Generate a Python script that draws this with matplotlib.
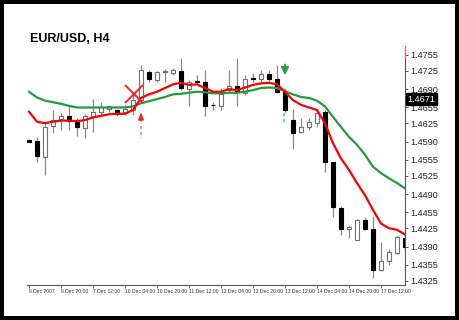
import numpy as np
import matplotlib.pyplot as plt
from matplotlib.transforms import blended_transform_factory

# H4 candles, EUR/USD
opens = [1.4593, 1.4591, 1.4561, 1.4620, 1.4633, 1.4638, 1.4627, 1.4615, 1.4638, 1.4646,
         1.4652, 1.4650, 1.4646, 1.4650, 1.4669, 1.4723, 1.4707, 1.4723, 1.4720, 1.4725,
         1.4690, 1.4705, 1.4704, 1.4660, 1.4658, 1.4688, 1.4695, 1.4682, 1.4711, 1.4709,
         1.4718, 1.4709, 1.4685, 1.4631, 1.4608, 1.4617, 1.4625, 1.4646, 1.4552, 1.4464,
         1.4424, 1.4403, 1.4441, 1.4424, 1.4345, 1.4363, 1.4377, 1.4407]
highs = [1.4594, 1.4599, 1.4625, 1.4650, 1.4644, 1.4657, 1.4634, 1.4642, 1.4671, 1.4665,
         1.4658, 1.4653, 1.4660, 1.4679, 1.4736, 1.4726, 1.4725, 1.4728, 1.4730, 1.4749,
         1.4707, 1.4716, 1.4726, 1.4666, 1.4692, 1.4726, 1.4749, 1.4717, 1.4720, 1.4726,
         1.4726, 1.4736, 1.4692, 1.4653, 1.4634, 1.4634, 1.4653, 1.4650, 1.4552, 1.4468,
         1.4431, 1.4443, 1.4447, 1.4449, 1.4399, 1.4385, 1.4412, 1.4412]
lows = [1.4590, 1.4552, 1.4526, 1.4606, 1.4612, 1.4612, 1.4600, 1.4597, 1.4609, 1.4641,
        1.4647, 1.4639, 1.4641, 1.4641, 1.4666, 1.4704, 1.4704, 1.4704, 1.4717, 1.4688,
        1.4657, 1.4698, 1.4638, 1.4650, 1.4650, 1.4682, 1.4657, 1.4679, 1.4704, 1.4704,
        1.4706, 1.4682, 1.4646, 1.4576, 1.4606, 1.4612, 1.4618, 1.4532, 1.4447, 1.4412,
        1.4407, 1.4403, 1.4422, 1.4331, 1.4344, 1.4354, 1.4375, 1.4382]
closes = [1.4590, 1.4563, 1.4618, 1.4631, 1.4639, 1.4629, 1.4617, 1.4638, 1.4647, 1.4655,
          1.4657, 1.4642, 1.4653, 1.4669, 1.4726, 1.4709, 1.4722, 1.4724, 1.4726, 1.4692,
          1.4703, 1.4704, 1.4657, 1.4659, 1.4680, 1.4695, 1.4685, 1.4709, 1.4710, 1.4718,
          1.4709, 1.4684, 1.4650, 1.4606, 1.4617, 1.4627, 1.4644, 1.4551, 1.4465, 1.4424,
          1.4428, 1.4441, 1.4424, 1.4345, 1.4363, 1.4379, 1.4409, 1.4390]

# fast (red) and slow (green) moving averages
ma_fast = [1.4647, 1.4628, 1.4625, 1.4628, 1.4630, 1.4630, 1.4629, 1.4631, 1.4636, 1.4639,
           1.4642, 1.4643, 1.4643, 1.4650, 1.4673, 1.4680, 1.4685, 1.4692, 1.4699, 1.4702,
           1.4698, 1.4699, 1.4692, 1.4685, 1.4685, 1.4690, 1.4688, 1.4693, 1.4698, 1.4701,
           1.4702, 1.4699, 1.4685, 1.4669, 1.4660, 1.4655, 1.4650, 1.4625, 1.4587, 1.4558,
           1.4536, 1.4511, 1.4488, 1.4460, 1.4434, 1.4425, 1.4422, 1.4413]
ma_slow = [1.4685, 1.4674, 1.4668, 1.4665, 1.4662, 1.4658, 1.4655, 1.4655, 1.4655, 1.4655,
           1.4655, 1.4655, 1.4655, 1.4657, 1.4663, 1.4667, 1.4671, 1.4675, 1.4680, 1.4681,
           1.4683, 1.4685, 1.4684, 1.4682, 1.4682, 1.4683, 1.4683, 1.4685, 1.4688, 1.4692,
           1.4693, 1.4692, 1.4686, 1.4680, 1.4675, 1.4673, 1.4668, 1.4657, 1.4637, 1.4618,
           1.4599, 1.4584, 1.4565, 1.4542, 1.4530, 1.4520, 1.4511, 1.4501]

price_ticks = [1.4325, 1.4355, 1.4390, 1.4425, 1.4455, 1.4490, 1.4525, 1.4555,
               1.4590, 1.4625, 1.4655, 1.4690, 1.4725, 1.4755]
date_labels = ['6 Dec 2007', '6 Dec 20:00', '7 Dec 12:00', '10 Dec 04:00', '10 Dec 20:00',
               '11 Dec 12:00', '12 Dec 04:00', '12 Dec 20:00', '13 Dec 12:00',
               '14 Dec 04:00', '14 Dec 20:00', '17 Dec 12:00']
last_price = 1.4671

plt.rcParams['font.family'] = ['Liberation Sans', 'DejaVu Sans']

fig = plt.figure(figsize=(4.59, 3.2), dpi=100)
fig.patch.set_edgecolor('black')
fig.patch.set_linewidth(4.5)
ax = fig.add_axes([27 / 459, 1 - 285 / 320, (405 - 27) / 459, (285 - 46) / 320])

x = np.arange(len(opens))
o = np.array(opens)
c = np.array(closes)
up = c >= o

# wicks
ax.vlines(x, lows, highs, color='#8a8a8a', lw=0.9, zorder=2)
# bodies
bottoms = np.minimum(o, c)
heights = np.maximum(np.abs(c - o), 0.00004)
ax.bar(x[up], heights[up], bottom=bottoms[up], width=0.62, color='white',
       edgecolor='#707070', linewidth=0.8, zorder=3)
ax.bar(x[~up], heights[~up], bottom=bottoms[~up], width=0.62, color='black',
       edgecolor='black', linewidth=0.8, zorder=3)

# moving averages
ax.plot(x, ma_slow, color='#259a3c', lw=1.6, zorder=4)
ax.plot(x, ma_fast, color='#ff0000', lw=1.6, zorder=5)

# signal markers
ax.plot([13.1], [1.4681], marker='x', ms=13, mew=1.4, color='#ff2020', zorder=6)
ax.annotate('', xy=(14, 1.4651), xytext=(14, 1.4624),
            arrowprops=dict(arrowstyle='-|>,head_width=0.16,head_length=0.4',
                            color='#ff2020', lw=1.1), zorder=6)
ax.plot([14, 14], [1.4620, 1.4597], color='#ff8080', lw=1.2, ls=(0, (2, 1.5)), zorder=6)
ax.annotate('', xy=(32, 1.4711), xytext=(32, 1.4742),
            arrowprops=dict(arrowstyle='-|>,head_width=0.22,head_length=0.45',
                            color='#2e9e4a', lw=1.4), zorder=6)
ax.plot([31.9, 31.9], [1.4644, 1.4626], color='#7cc690', lw=1.2, ls=(0, (2, 1.5)), zorder=6)

ax.set_xlim(-0.25, 47)
ax.set_ylim(1.43168, 1.47721)

for s in ['left', 'top']:
    ax.spines[s].set_visible(False)
for s in ['right', 'bottom']:
    ax.spines[s].set_color('#555555')
    ax.spines[s].set_linewidth(0.8)

ax.yaxis.tick_right()
ax.set_yticks(price_ticks)
ax.set_yticklabels([f'{p:.4f}' for p in price_ticks])
ax.tick_params(axis='y', length=2.5, width=0.7, color='#555555', labelsize=6.6,
               labelcolor='#222222', pad=1)

ax.set_xticks(np.arange(0, 48, 4))
ax.set_xticklabels(date_labels, ha='left')
ax.tick_params(axis='x', length=2.5, width=0.6, color='#555555', labelsize=3.6,
               labelcolor='#333333', pad=0.5)

# red mark at top of price scale
ax.plot([1, 1], [0.955, 1.0], transform=ax.transAxes, color='#ff6060', lw=0.9,
        clip_on=False, zorder=7)

# current price box
trans = blended_transform_factory(ax.transAxes, ax.transData)
ax.text(1.006, last_price, f'{last_price:.4f}', transform=trans, color='white',
        fontsize=6.6, va='center', ha='left', clip_on=False, zorder=10,
        bbox=dict(boxstyle='square,pad=0.15', fc='black', ec='black'))

fig.text(30 / 459, 1 - 42 / 320, 'EUR/USD, H4', fontsize=9, fontweight='bold',
         va='baseline', ha='left')

fig.savefig('out.png', dpi=100)
